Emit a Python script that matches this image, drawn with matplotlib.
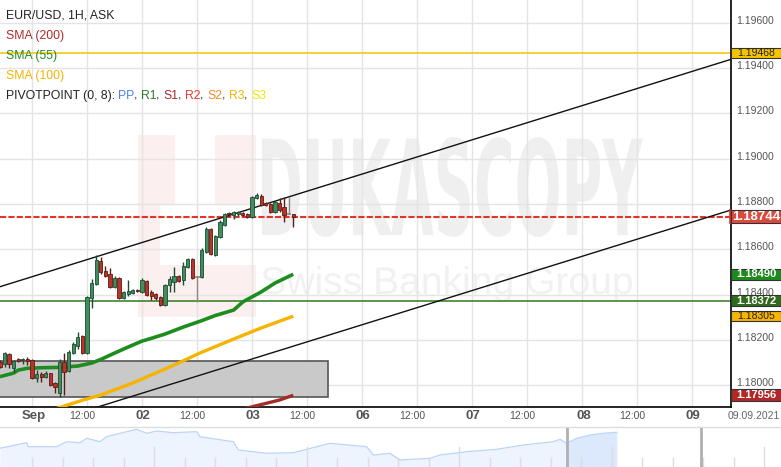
import matplotlib
matplotlib.use("Agg")
import matplotlib.pyplot as plt
from matplotlib.patches import Rectangle, PathPatch
from matplotlib.textpath import TextPath
from matplotlib.font_manager import FontProperties
from matplotlib.transforms import Affine2D, blended_transform_factory, offset_copy

# ---------------- data ----------------
# trading hours from 2021-09-01 00:00 (weekend removed), 1H candles
hours = list(range(-7, 58))
opens = [1.18103, 1.18094, 1.18138, 1.18076, 1.18116, 1.18110, 1.18116, 1.18112, 1.18032, 1.18050,
         1.18037, 1.18054, 1.18010, 1.17966, 1.18103, 1.18063, 1.18142, 1.18173, 1.18217, 1.18142,
         1.18385, 1.18447, 1.18548, 1.18504, 1.18491, 1.18434, 1.18473, 1.18385, 1.18403, 1.18407,
         1.18420, 1.18412, 1.18460, 1.18412, 1.18403, 1.18390, 1.18354, 1.18443, 1.18456, 1.18482,
         1.18465, 1.18522, 1.18557, 1.18478, 1.18478, 1.18588, 1.18690, 1.18575, 1.18654, 1.18707,
         1.18760, 1.18751, 1.18756, 1.18760, 1.18756, 1.18743, 1.18826, 1.18835, 1.18804, 1.18800,
         1.18765, 1.18804, 1.18787, 1.18756, 1.18756]
highs = [1.18112, 1.18147, 1.18142, 1.18112, 1.18120, 1.18120, 1.18125, 1.18116, 1.18067, 1.18059,
         1.18063, 1.18056, 1.18015, 1.18116, 1.18142, 1.18155, 1.18191, 1.18235, 1.18222, 1.18394,
         1.18469, 1.18575, 1.18566, 1.18526, 1.18518, 1.18482, 1.18478, 1.18416, 1.18465, 1.18425,
         1.18425, 1.18473, 1.18465, 1.18420, 1.18407, 1.18394, 1.18447, 1.18482, 1.18522, 1.18487,
         1.18544, 1.18562, 1.18562, 1.18482, 1.18606, 1.18698, 1.18694, 1.18663, 1.18729, 1.18760,
         1.18765, 1.18769, 1.18769, 1.18765, 1.18760, 1.18835, 1.18848, 1.18844, 1.18809, 1.18804,
         1.18813, 1.18826, 1.18831, 1.18831, 1.18756]
lows = [1.18076, 1.18081, 1.18076, 1.18059, 1.18103, 1.18094, 1.18090, 1.18028, 1.18015, 1.18015,
        1.18032, 1.17997, 1.17966, 1.17948, 1.17957, 1.18059, 1.18138, 1.18160, 1.18138, 1.18138,
        1.18341, 1.18443, 1.18491, 1.18478, 1.18429, 1.18429, 1.18381, 1.18381, 1.18394, 1.18403,
        1.18412, 1.18407, 1.18394, 1.18376, 1.18376, 1.18350, 1.18350, 1.18412, 1.18412, 1.18456,
        1.18443, 1.18518, 1.18469, 1.18368, 1.18473, 1.18584, 1.18575, 1.18571, 1.18650, 1.18703,
        1.18747, 1.18734, 1.18747, 1.18747, 1.18738, 1.18738, 1.18822, 1.18791, 1.18791, 1.18760,
        1.18760, 1.18765, 1.18721, 1.18756, 1.18698]
closes = [1.18081, 1.18142, 1.18094, 1.18107, 1.18107, 1.18112, 1.18107, 1.18032, 1.18050, 1.18037,
          1.18054, 1.18001, 1.17993, 1.18103, 1.18059, 1.18147, 1.18182, 1.18213, 1.18142, 1.18390,
          1.18451, 1.18553, 1.18500, 1.18482, 1.18434, 1.18473, 1.18385, 1.18412, 1.18416, 1.18420,
          1.18416, 1.18465, 1.18398, 1.18394, 1.18385, 1.18354, 1.18443, 1.18469, 1.18482, 1.18460,
          1.18526, 1.18557, 1.18473, 1.18478, 1.18597, 1.18690, 1.18579, 1.18659, 1.18721, 1.18756,
          1.18754, 1.18765, 1.18765, 1.18751, 1.18743, 1.18831, 1.18840, 1.18796, 1.18796, 1.18765,
          1.18809, 1.18774, 1.18751, 1.18756, 1.18744]

sma55_h = [-7, -4, -3, -1, 3, 6, 10, 13, 15, 18, 21, 24, 26, 29, 33, 37, 40, 44, 46, 50, 53, 57]
sma55_v = [1.18038, 1.18054, 1.18067, 1.18075, 1.18078, 1.18079, 1.18085, 1.18098, 1.18114, 1.18142,
           1.18169, 1.18195, 1.18207, 1.18226, 1.18257, 1.18285, 1.18308, 1.18332, 1.18368, 1.18412,
           1.18451, 1.18490]
sma100_h = [5, 6.5, 11, 15, 22, 29.5, 33, 36.7, 44, 50, 57]
sma100_v = [1.17895, 1.17905, 1.17934, 1.17957, 1.18010, 1.18076, 1.18108, 1.18143, 1.18204, 1.18253, 1.18305]
sma200_h = [46, 47.6, 54, 57]
sma200_v = [1.17895, 1.17903, 1.17935, 1.17956]

channel_upper = [(0, 1.18479), (144, 1.19385)]
channel_lower = [(0, 1.17814), (144, 1.18720)]
box_hours = (-20, 64.5)
box_prices = (1.17950, 1.18106)

level_yellow = 1.19468
level_price = 1.18744
level_green = 1.18372

y_ticks = [1.180, 1.182, 1.184, 1.186, 1.188, 1.190, 1.192, 1.194, 1.196]
day_labels = ["Sep", "02", "03", "06", "07", "08", "09"]
day_hours = [0, 24, 48, 72, 96, 120, 144]
noon_hours = [11, 35, 59, 83, 107, 131]

# right-hand price tags: value, face, text colour, bold, size, height(px)
tags = [
    (1.19468, "#f5c400", "#222222", False, 7.5, 10),
    (1.18744, "#dc4a3d", "white", True, 9.5, 13),
    (1.18490, "#1e8a1e", "white", True, 8, 11),
    (1.18372, "#2f6b1c", "white", True, 8, 11),
    (1.18305, "#f7b500", "#222222", False, 7.5, 10),
    (1.17956, "#b22828", "white", True, 8, 12),
]

# navigator (overview) curve, read in pixel units of the strip
nav_x = [0, 26.7, 28, 56.7, 66.7, 80, 86.7, 100, 106.7, 120, 136.7, 146.7, 156.7, 173.3, 196.7, 200,
         233.3, 238.3, 266.7, 293.3, 330, 366.7, 373.3, 390, 400, 430, 440, 466.7, 496.7, 523.3,
         553.3, 560, 566.7, 576.7, 590, 603.3, 616.7]
nav_y = [448.3, 442.7, 446.7, 446.7, 441.7, 442.7, 438.3, 441.7, 436.7, 433.3, 429.3, 433.3, 431,
         432.7, 431.7, 436.7, 441.7, 450, 453.3, 452.7, 443.3, 446.7, 455, 453.3, 460, 458.3, 455,
         451.7, 449.3, 445, 441.7, 439.3, 443.3, 438.3, 435, 433.3, 432.3]

# ---------------- figure ----------------
W, H = 781, 467
fig = plt.figure(figsize=(W / 100, H / 100), dpi=100)
fig.patch.set_facecolor("white")


def frame(x0, y0, x1, y1):
    return [x0 / W, 1 - y1 / H, (x1 - x0) / W, (y1 - y0) / H]


bg = fig.add_axes([0, 0, 1, 1], zorder=0)
bg.set_xlim(0, W)
bg.set_ylim(H, 0)
bg.axis("off")

ax = fig.add_axes(frame(0, 0, 731, 407), zorder=1)
ax.patch.set_alpha(0)
PX_PER_H = 110 / 24
ax.set_xlim(-32 / PX_PER_H, 699 / PX_PER_H)
ax.set_ylim(1.179042, 1.197003)

FONT = "Liberation Sans"


def fit_text(s, x0, y0, x1, y1, color, weight="bold", family="Liberation Sans Narrow"):
    tp = TextPath((0, 0), s, size=100, prop=FontProperties(family=family, weight=weight))
    bb = tp.get_extents()
    tr = (Affine2D().translate(-bb.x0, -bb.y0)
          .scale((x1 - x0) / bb.width, -(y1 - y0) / bb.height)
          .translate(x0, y1))
    bg.add_patch(PathPatch(tr.transform_path(tp), facecolor=color, edgecolor="none", zorder=1))


# watermark logo
bg.add_patch(Rectangle((138, 135), 118, 182, facecolor="#fcefef", edgecolor="none", zorder=0.5))
bg.add_patch(Rectangle((175, 135), 40, 70, facecolor="white", edgecolor="none", zorder=0.6))
bg.add_patch(Rectangle((160, 205), 96, 60, facecolor="white", edgecolor="none", zorder=0.6))
fit_text("DUKASCOPY", 262, 137, 643, 237, "#efefef")
fit_text("Swiss Banking Group", 262, 266, 632, 302, "#f1f1f1", weight="normal", family="Liberation Sans")

# grid & spines
ax.set_xticks(list(range(0, 145, 12)))
ax.set_yticks(y_ticks)
ax.set_axisbelow(True)
ax.grid(True, color="#e4e4e4", lw=1)
ax.tick_params(length=0, labelbottom=False, labelleft=False)
for s in ["left", "top"]:
    ax.spines[s].set_visible(False)
ax.spines["right"].set_color("black")
ax.spines["bottom"].set_color("black")
ax.spines["right"].set_linewidth(1.2)
ax.spines["bottom"].set_linewidth(1.2)

# y labels
ylab_tr = offset_copy(blended_transform_factory(ax.transAxes, ax.transData), fig=fig, x=5, y=2, units="dots")
for v in y_ticks:
    ax.text(1.0, v, f"{v:.5f}", transform=ylab_tr, ha="left", va="center", fontsize=7.5,
            color="#555555", family=FONT, clip_on=False, zorder=3)

# x labels
xlab_tr = offset_copy(blended_transform_factory(ax.transData, ax.transAxes), fig=fig, x=0, y=-9, units="dots")
for lab, h in zip(day_labels, day_hours):
    ax.text(h + 0.3, 0, lab, transform=xlab_tr, ha="center", va="center", fontsize=9.5,
            fontweight="bold", color="#555555", family=FONT, clip_on=False)
for h in noon_hours:
    ax.text(h, 0, "12:00", transform=xlab_tr, ha="center", va="center", fontsize=7.5,
            color="#555555", family=FONT, clip_on=False)
ax.text(754, 416, "09.09.2021", transform=bg.transData, ha="center", va="center", fontsize=7.5,
        color="#666666", family=FONT, clip_on=False)

# gray range box
ax.add_patch(Rectangle((box_hours[0], box_prices[0]), box_hours[1] - box_hours[0],
                       box_prices[1] - box_prices[0], facecolor="#c9c9c9", edgecolor="#555555",
                       lw=1.2, zorder=2))

# horizontal levels
ax.axhline(level_yellow, color="#f5c400", lw=1.1, zorder=2.5)
ax.axhline(level_green, color="#2f7a1c", lw=1.1, zorder=2.5)
ax.axhline(level_price, color="#e0352b", lw=1.5, ls=(0, (3, 1)), zorder=2.6)

# channel
ax.axline(channel_upper[0], channel_upper[1], color="#111111", lw=1, zorder=2.7)
ax.axline(channel_lower[0], channel_lower[1], color="#111111", lw=1, zorder=2.7)

# SMAs
ax.plot(sma200_h, sma200_v, color="#a52a2a", lw=2.4, zorder=3, solid_capstyle="butt")
ax.plot(sma100_h, sma100_v, color="#f5b400", lw=2.4, zorder=3, solid_capstyle="butt")
ax.plot(sma55_h, sma55_v, color="#1e8c1e", lw=2.6, zorder=3, solid_capstyle="butt")

# candles
faces, edges = [], []
for o, c in zip(opens, closes):
    if c > o:
        faces.append("#3f8f5c"); edges.append("#1d4a30")
    elif c < o:
        faces.append("#b8342b"); edges.append("#5e1a14")
    else:
        faces.append("#8a8a8a"); edges.append("#8a8a8a")
ax.vlines(hours, lows, highs, colors=edges, lw=1, zorder=4)
bottoms = [min(o, c) for o, c in zip(opens, closes)]
heights = [max(abs(c - o), 0.00004) for o, c in zip(opens, closes)]
ax.bar(hours, heights, bottom=bottoms, width=0.72, color=faces, edgecolor=edges, lw=0.6, zorder=5)

# red marker at the right end of the price line
ax.plot([152.3, 152.3], [level_price - 0.00028, level_price + 0.00028], color="#e0352b", lw=1.2,
        zorder=6, clip_on=False)

# price tags
tag_tr = blended_transform_factory(bg.transData, ax.transData)
for v, face, tc, bold, fs, hpx in tags:
    hh = hpx / 22660.0
    ax.add_patch(Rectangle((731, v - hh / 2), 49.5, hh, transform=tag_tr, facecolor=face,
                           edgecolor="#333333", lw=0.8, zorder=6, clip_on=False))
    ax.text(756, v, f"{v:.5f}", transform=tag_tr, ha="center", va="center", fontsize=fs,
            fontweight="bold" if bold else "normal", color=tc, family=FONT, clip_on=False, zorder=7)
ax.set_xlim(-32 / PX_PER_H, 699 / PX_PER_H)
ax.set_ylim(1.179042, 1.197003)

# legend block
legend_rows = [("EUR/USD, 1H, ASK", "#222222", 16), ("SMA (200)", "#b02a2a", 36),
               ("SMA (55)", "#238a23", 56), ("SMA (100)", "#f5b400", 76)]
for s, c, y in legend_rows:
    ax.text(5.5, y, s, transform=bg.transData, ha="left", va="center", fontsize=8.8,
            color=c, family=FONT, zorder=8, clip_on=False)
pp_parts = [("PIVOTPOINT (0, 8): ", "#222222"), ("PP", "#4a86e8"), (", ", "#222222"),
            ("R1", "#2e7d2e"), (", ", "#222222"), ("S1", "#a52a2a"), (", ", "#222222"),
            ("R2", "#e53935"), (", ", "#222222"), ("S2", "#f08a24"), (", ", "#222222"),
            ("R3", "#f5b400"), (", ", "#222222"), ("S3", "#f2e600")]
prev = ax.text(5.5, 96, pp_parts[0][0], transform=bg.transData, ha="left", va="center",
               fontsize=8.8, color=pp_parts[0][1], family=FONT, zorder=8)
for s, c in pp_parts[1:]:
    prev = ax.annotate(s, xy=(1, 0.5), xycoords=prev, ha="left", va="center", fontsize=8.8,
                       color=c, family=FONT, zorder=8)

# separator under axis labels
bg.plot([0, W], [427, 427], color="#dedede", lw=1)

# navigator strip
nav = fig.add_axes(frame(0, 427.5, 781, 467), zorder=1)
nav.set_xlim(0, W)
nav.set_ylim(467, 427.5)
nav.axis("off")
nav.fill_between(nav_x, nav_y, 467, color="#edf4fe", lw=0)
sel = [i for i, x in enumerate(nav_x) if x >= 566]
nav.fill_between([nav_x[i] for i in sel], [nav_y[i] for i in sel], 467, color="#dce8fb", lw=0)
nav.plot(nav_x, nav_y, color="#bcd4f6", lw=0.9)
for k in range(25):
    x = 32 + 30.5 * k
    top = 447 if k % 5 == 4 else 458
    nav.plot([x, x], [top, 467], color="#dddddd", lw=1)
for x in (567, 701):
    nav.plot([x, x], [427.5, 467], color="#b0b0b0", lw=2)

fig.savefig("out.png", dpi=100, facecolor="white")
